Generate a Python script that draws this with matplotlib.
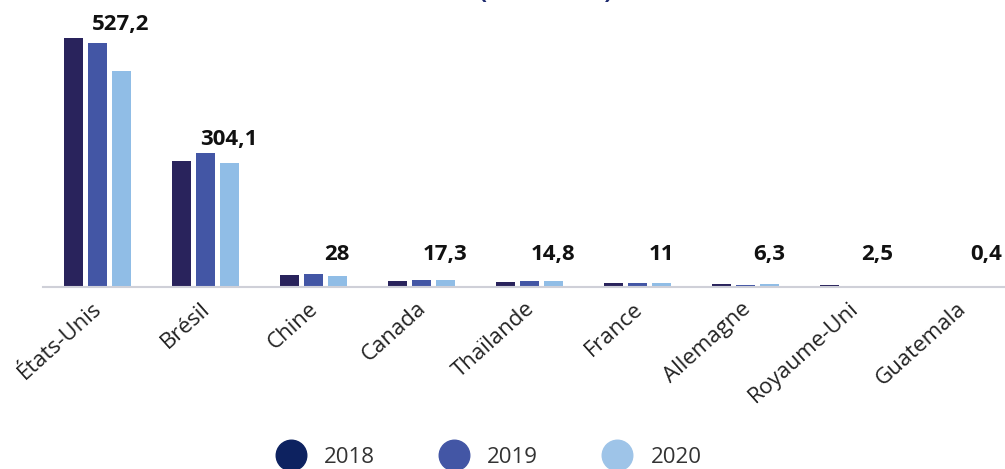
import matplotlib
matplotlib.use("Agg")
import matplotlib.pyplot as plt
import matplotlib.transforms as mtransforms
from matplotlib.lines import Line2D
import numpy as np

plt.rcParams['font.family'] = ['Open Sans', 'DejaVu Sans']

countries = ["États-Unis", "Brésil", "Chine", "Canada", "Thaïlande",
             "France", "Allemagne", "Royaume-Uni", "Guatemala"]
years = ["2018", "2019", "2020"]
v2018 = [608, 307, 28.6, 15.6, 13.2, 9.0, 6.5, 5.0, 0.4]
v2019 = [598, 327, 31.0, 18.0, 14.7, 10.5, 6.0, 2.5, 0.4]
v2020 = [527.2, 304.1, 28, 17.3, 14.8, 11, 6.3, 2.5, 0.4]
labels2020 = ["527,2", "304,1", "28", "17,3", "14,8", "11", "6,3", "2,5", "0,4"]

bar_colors = ["#29235c", "#4356a5", "#90bde6"]
legend_colors = ["#0d2260", "#4356a5", "#9ec4e8"]

W, H = 1005, 469
fig = plt.figure(figsize=(W / 100, H / 100), dpi=100)
ax = fig.add_axes([43 / W, (H - 287) / H, (W - 43) / W, 287 / H])

x = np.arange(len(countries))
off = 0.222
bw = 0.176
for i, vals in enumerate([v2018, v2019, v2020]):
    ax.bar(x + (i - 1) * off, vals, width=bw, color=bar_colors[i], zorder=2)

ax.set_xlim(-0.5, 8.4)
ax.set_ylim(0, 702)

for s in ["top", "right", "left"]:
    ax.spines[s].set_visible(False)
ax.spines["bottom"].set_color("#cfd0d8")
ax.spines["bottom"].set_linewidth(1.5)
ax.set_yticks([])
ax.tick_params(axis="x", length=0, pad=8)
ax.set_xticks(x)
ax.set_xticklabels(countries, rotation=42, ha="right", fontsize=16, color="#222222")
shift = mtransforms.ScaledTranslation(9 / 100, 0, fig.dpi_scale_trans)
for lab in ax.get_xticklabels():
    lab.set_transform(lab.get_transform() + shift)

for i in range(len(countries)):
    top = max(v2018[i], v2019[i], v2020[i])
    y = max(top + 8, 53)
    ax.text(x[i] + off, y, labels2020[i], ha="center", va="bottom",
            fontsize=16, fontweight="bold", color="#111111")

# title, mostly outside the top edge as in the reference
fig.text(545.5 / W, 1.0 + 1 / H, "(en tonnes)", ha="center", va="baseline",
         fontsize=17, fontweight="bold", color="#1e2b6e")

handles = [Line2D([0], [0], marker="o", linestyle="", markersize=22,
                  markerfacecolor=c, markeredgecolor=c) for c in legend_colors]
fig.legend(handles, years, loc="center", bbox_to_anchor=(485 / W, 1 - 457 / H),
           ncol=3, frameon=False, fontsize=16, handletextpad=0.5, columnspacing=2.55,
           labelcolor="#333333")

fig.savefig("out.png", dpi=100)
